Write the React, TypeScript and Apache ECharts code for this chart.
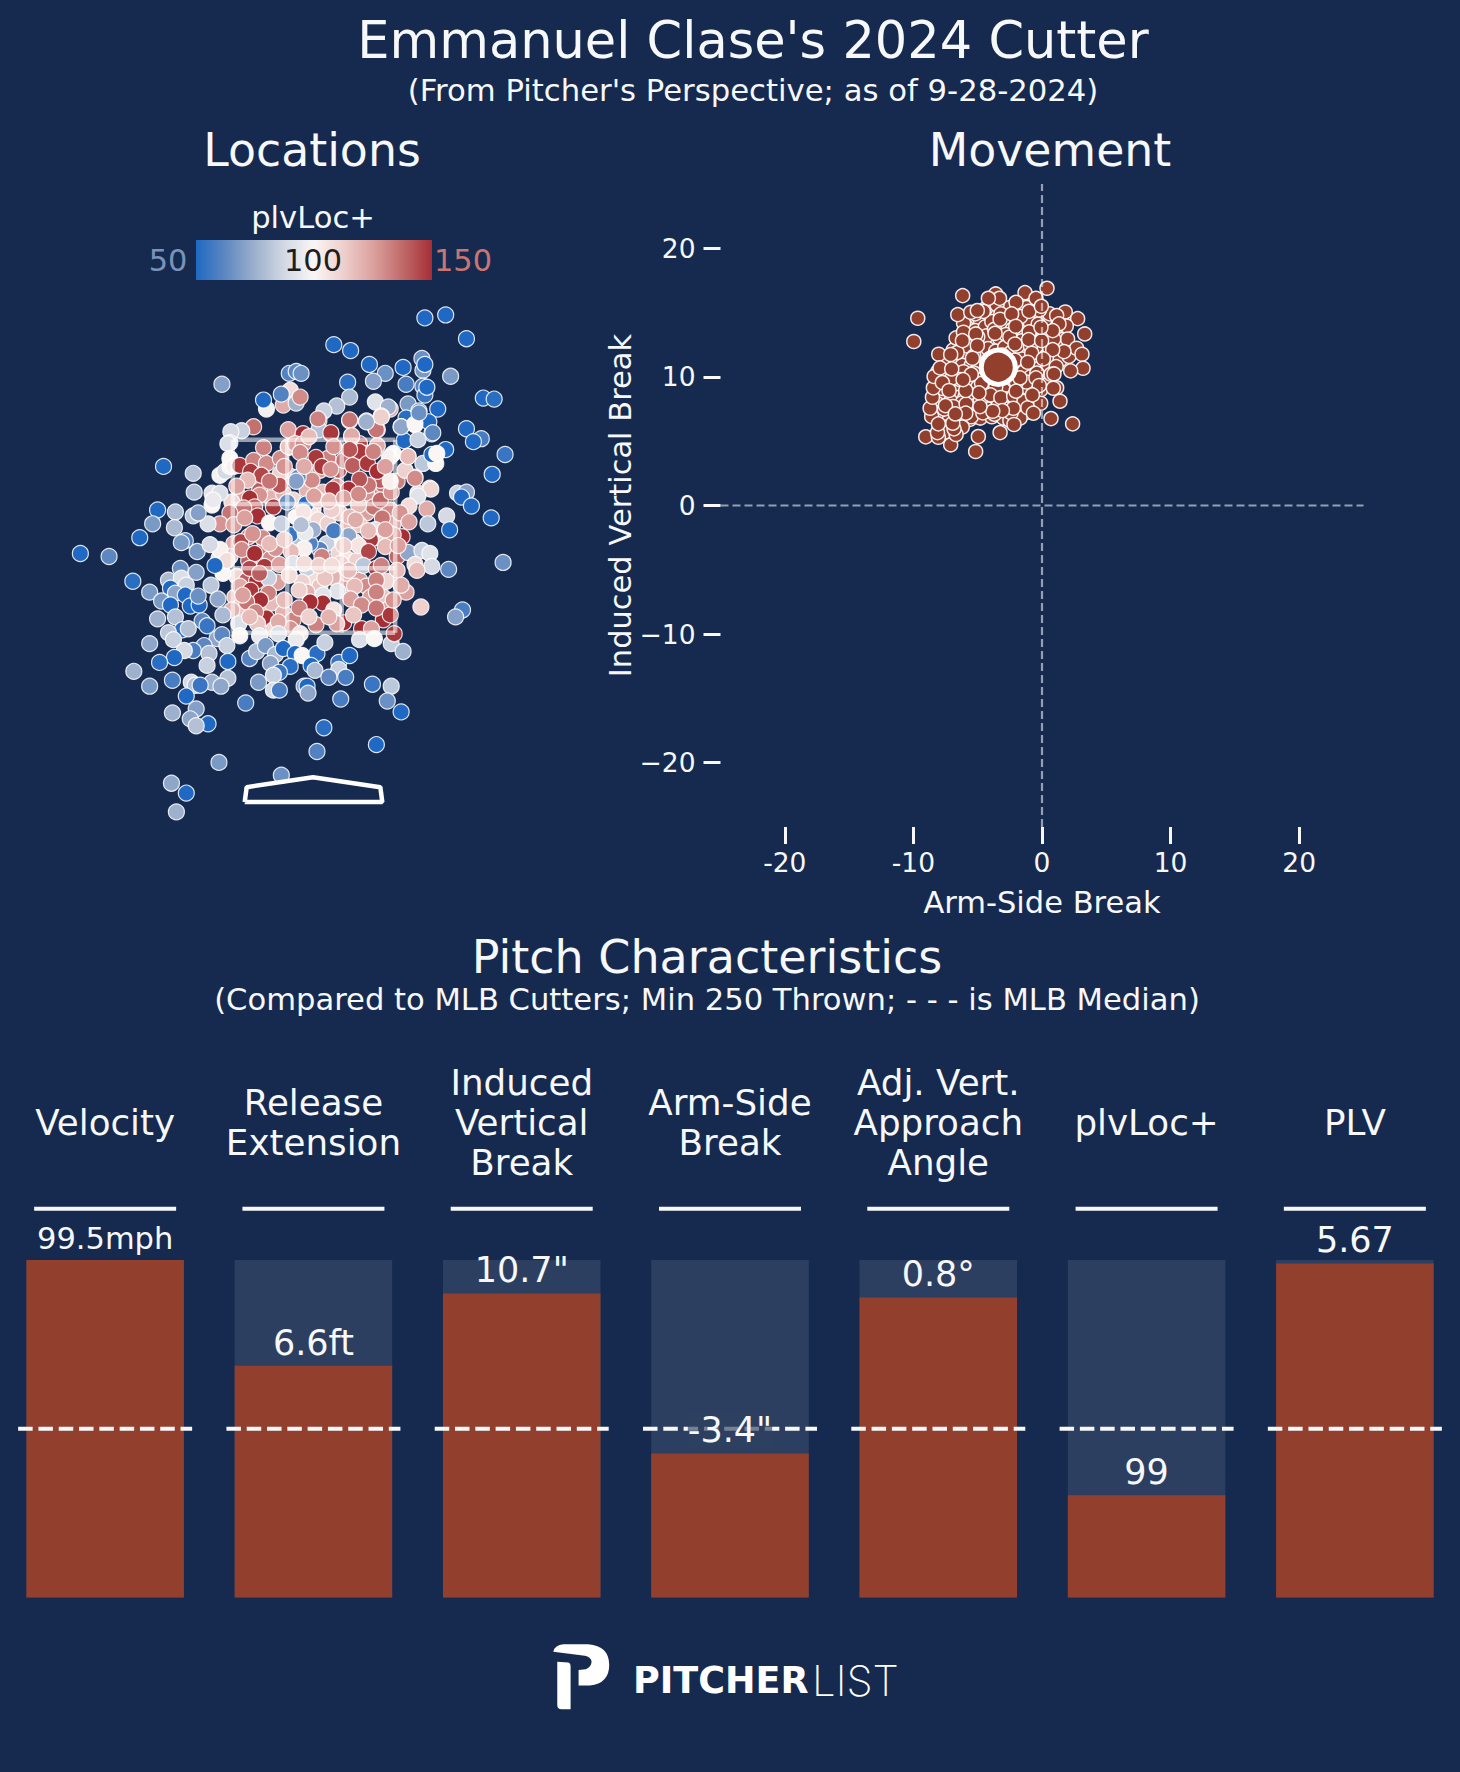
import React from 'react';
import * as echarts from 'echarts';

// plate x (ft), plate z (ft), plvLoc+
const locationPitches = [
  [-0.31,3.36,122],[-0.24,3.30,118],[0.13,3.13,112],[-0.07,3.16,120],[0.23,3.20,130],[0.63,3.16,130],[0.70,3.21,135],[0.53,3.13,128],[0.67,3.26,140],[0.84,3.25,132],
  [0.80,3.53,100],[0.55,3.21,135],[0.06,3.36,125],[0.25,3.36,140],[0.30,3.46,135],[0.46,3.63,145],[0.53,3.53,148],[-0.34,3.33,112],[-0.75,3.09,125],[-0.55,3.16,140],
  [-0.43,3.08,120],[-0.83,3.04,110],[-0.31,3.13,120],[-0.21,3.06,110],[-0.01,2.96,108],[-0.18,2.89,100],[-0.04,2.93,105],[0.04,2.86,110],[0.14,2.82,112],[0.26,2.93,115],
  [0.35,2.81,118],[0.53,2.93,125],[0.60,2.99,135],[0.77,2.96,130],[0.80,2.82,122],[0.67,2.67,110],[0.77,2.66,120],[0.41,2.64,105],[0.26,2.62,100],[0.13,2.62,85],
  [0.06,2.56,60],[-0.04,2.62,60],[-0.19,2.64,80],[-0.24,2.71,55],[0.25,2.52,110],[0.33,2.47,105],[0.43,2.45,112],[-0.81,2.62,122],[-0.85,2.49,115],[-0.66,2.45,140],
  [-0.53,2.54,135],[-0.44,2.47,130],[-0.78,2.29,110],[-0.68,2.25,140],[-0.58,2.24,150],[-0.80,2.08,118],[-0.75,1.98,115],[-0.83,1.95,120],[-0.51,1.95,120],[-0.43,2.02,118],
  [-0.48,1.87,150],[-0.31,1.92,120],[-0.21,1.85,132],[-0.24,1.76,128],[-0.41,1.75,110],[0.01,2.25,108],[0.06,2.19,115],[0.30,2.22,125],[0.33,2.32,118],[0.46,2.25,125],
  [0.53,2.19,130],[0.57,2.08,125],[0.70,2.08,115],[0.73,1.95,125],[0.70,1.85,150],
  [1.12,4.90,50],[1.33,4.93,50],[1.54,4.69,50],[0.20,4.63,50],[0.37,4.57,50],[0.56,4.43,50],[0.90,4.40,50],[1.09,4.49,65],[1.10,4.37,68],[1.12,4.43,50],
  [0.72,4.34,65],[1.38,4.31,68],[-0.25,4.34,60],[-0.18,4.36,62],[-0.13,4.34,65],[-0.93,4.23,70],[0.34,4.25,52],[0.60,4.26,70],[0.93,4.23,58],[1.10,4.21,60],
  [1.12,4.12,55],[1.14,4.20,50],[1.71,4.09,50],[1.82,4.08,52],[-0.24,4.17,108],[-0.31,4.02,122],[-0.18,4.04,75],[-0.33,4.13,60],[-0.48,3.98,98],[-0.51,4.07,50],
  [-0.14,4.10,130],[0.36,4.10,78],[0.62,4.05,92],[0.77,3.98,122],[0.75,4.00,75],[0.95,4.03,68],[1.25,3.98,50],[1.06,3.96,62],[0.23,4.01,80],[0.10,3.96,85],
  [0.68,3.91,115],[0.05,3.86,132],[0.36,3.86,132],[0.53,3.86,75],[0.93,3.89,52],[1.02,3.82,103],[0.88,3.80,82],[1.19,3.73,62],[1.16,3.85,50],[1.69,3.68,58],
  [1.54,3.78,50],[1.61,3.65,50],[1.93,3.52,55],[1.80,3.32,50],[-0.61,3.80,136],[-0.73,3.76,85],[-0.84,3.75,88],[-0.26,3.77,125],[-0.11,3.73,150],[0.17,3.73,148],
  [0.05,3.77,80],[0.62,3.79,118],[0.64,3.77,132],[0.38,3.70,125],[0.91,3.66,50],[1.05,3.67,85],[-0.85,3.64,90],[-0.51,3.59,132],[-0.26,3.59,120],
  [-1.52,3.40,50],[-1.22,3.33,80],[-1.21,3.14,78],[1.33,3.57,50],[1.10,3.43,82],[1.23,3.43,100],[1.19,3.52,50],[1.17,3.18,112],[1.02,3.29,125],[1.45,3.13,85],
  [1.54,3.14,70],[1.49,3.09,50],[1.05,3.13,92],[0.95,3.50,125],[0.92,3.36,112],[-0.95,3.31,98],[-0.90,3.35,88],[-1.03,3.13,92],[-0.95,3.13,90],[-0.85,3.40,100],
  [-0.87,3.63,90],[-0.85,3.48,100],[-0.81,3.40,102],
  [-0.75,3.41,148],[-0.61,3.46,132],[-0.48,3.43,130],[-0.64,3.35,148],[-0.53,3.31,145],[-0.67,3.26,118],[-0.34,3.48,130],[-0.26,3.60,115],[-0.19,3.63,125],[-0.11,3.63,130],
  [-0.14,3.54,130],[0.04,3.88,132],[0.36,3.87,135],[0.17,3.74,148],[0.38,3.71,122],[0.63,3.77,135],[0.68,3.90,112],[0.53,3.85,75],[0.88,3.80,72],[1.02,3.83,100],
  [1.20,3.74,62],[1.06,3.94,65],[1.24,3.53,100],[0.95,3.50,118],[0.76,3.49,102],[0.64,3.61,122],[0.46,3.55,148],[0.36,3.57,142],[0.14,3.48,132],[0.02,3.49,148],
  [0.08,3.40,148],[0.17,3.37,128],[0.39,3.41,140],[0.54,3.43,148],[0.64,3.35,150],[0.46,3.27,142],[0.35,3.17,150],[-0.02,3.26,130],[-0.16,3.29,62],[-0.18,3.25,70],
  [0.09,3.14,118],[0.19,3.17,148],[-0.35,3.21,142],[-0.55,3.11,128],[-0.78,3.20,125],[-0.65,3.08,150],[-0.60,2.99,140],[-0.41,2.99,148],[-0.71,2.98,135],[-0.85,2.93,135],
  [-0.95,2.82,128],[-0.81,2.81,125],[-0.57,2.90,150],[-0.27,3.04,65],[-0.08,3.02,50],[0.04,3.06,115],[-0.11,2.94,105],[-0.45,2.83,100],[-0.33,2.82,85],[0.18,2.96,112],
  [0.45,3.01,118],[0.67,3.06,138],[0.78,3.14,128],[0.77,3.25,102],[1.02,3.28,130],[1.18,3.17,110],[1.05,3.10,92],[0.96,3.00,108],[1.14,2.97,122],[0.87,2.93,128],
  [0.69,2.88,135],[0.46,2.81,115],[0.62,2.76,92],[0.36,2.89,118],[0.42,2.86,122],[0.96,2.84,125],[1.15,2.82,82],[0.89,2.69,150],[0.80,2.71,125],[0.57,2.66,148],
  [0.35,2.70,72],[0.20,2.75,58],[-0.01,2.76,75],[-0.09,2.73,95],[-0.13,2.81,80],[-0.10,2.57,102],[0.08,2.49,132],[-0.23,2.54,118],[-0.39,2.57,128],[-0.52,2.68,130],
  [-0.66,2.69,135],[-0.74,2.64,145],[-0.73,2.56,130],[-0.60,2.52,150],[-0.96,2.47,93],[-0.92,2.32,100],[-0.95,2.56,102],[-0.88,2.45,108],[-0.65,2.37,145],[-0.50,2.39,148],
  [-0.35,2.41,125],[-0.21,2.42,92],[-0.07,2.37,85],[0.45,2.60,105],[0.55,2.54,145],[0.72,2.59,118],[0.84,2.49,138],[0.95,2.53,72],[1.09,2.55,85],[1.17,2.52,92],
  [1.02,2.41,108],[1.19,2.39,88],[1.36,2.36,62],[1.04,2.35,118],[0.50,2.40,82],[0.63,2.37,148],[0.27,2.42,112],[0.68,2.40,132],[0.84,2.35,118],[0.73,2.24,110],
  [0.63,2.25,132],[0.41,2.19,118],[0.19,2.28,120],[0.11,2.27,115],[-0.12,2.23,112],[-0.37,2.23,125],[-0.46,2.27,85],[-0.55,2.32,140],[-0.75,2.19,122],[-0.64,2.15,148],
  [-0.46,2.12,132],[-0.07,2.13,120],[0.24,2.14,92],[0.09,2.10,92],[0.37,2.06,125],[0.63,2.13,132],[0.48,2.00,130],[0.09,2.02,150],[-0.04,2.03,150],[-0.15,1.97,132],
  [-0.54,2.05,150],[-0.68,2.03,135],[-0.59,1.93,132],[0.93,2.13,125],[1.08,1.98,112],[0.63,1.97,135],[0.77,1.90,148],[0.20,1.95,105],[0.02,1.80,132],[0.30,1.82,150],
  [-0.36,1.83,122],[-0.57,1.81,115],[-0.76,1.81,90],[0.48,1.76,150],[0.58,1.76,125],[0.23,1.81,125],[-0.14,1.71,105],[-0.36,1.71,90],[-0.55,1.69,95],[-0.75,1.69,100],
  [-0.18,1.65,95],[-1.07,2.82,90],[-1.03,3.01,100],[-1.02,3.06,95],[-1.00,2.40,50],
  [-1.58,2.96,50],[-1.40,2.94,78],[-1.63,2.82,68],[-1.22,2.90,82],[-1.17,2.93,70],[-1.41,2.78,78],[-1.76,2.68,50],[-1.30,2.65,60],[-1.34,2.63,68],[-2.36,2.52,50],
  [-2.07,2.49,62],[-1.18,2.54,68],[-1.05,2.61,88],[-1.35,2.37,65],[-1.19,2.33,70],[-1.83,2.24,52],[-1.47,2.25,78],[-1.34,2.27,90],[-1.29,2.20,85],[-1.45,2.17,50],
  [-1.66,2.13,68],[-1.40,2.12,72],[-1.30,2.10,50],[-1.54,2.04,68],[-1.45,2.00,50],[-1.25,1.99,50],[-1.16,2.00,50],[-1.17,2.09,65],[-1.04,2.20,82],[-0.97,2.06,72],
  [-0.92,1.90,78],[-1.58,1.86,75],[-1.40,1.88,80],[-1.13,1.84,62],[-1.33,1.75,52],[-1.27,1.76,80],[-1.47,1.72,82],[-1.08,1.79,55],[-0.98,1.66,72],[-0.93,1.70,62],
  [-0.88,1.59,85],[-1.66,1.61,72],[-1.42,1.65,85],[-1.11,1.59,62],[-1.22,1.54,58],[-1.31,1.54,88],[-1.41,1.47,50],[-1.06,1.51,80],[-1.56,1.42,52],[-1.08,1.39,85],
  [-0.87,1.43,50],[-1.82,1.33,75],[-1.43,1.24,58],[-1.66,1.18,68],[-0.87,1.26,80],[-1.03,1.22,75],[-0.94,1.18,72],[-1.24,1.22,88],[-1.20,1.19,80],[-1.15,1.19,55],
  [-1.29,1.08,50],[-0.56,1.22,68],[-0.69,1.01,58],[-1.43,0.91,75],[-1.19,0.95,70],[-1.25,0.85,72],[-1.07,0.80,50],[-1.19,0.78,80],[-0.65,1.46,60],[-0.58,1.53,78],
  [-0.49,1.59,68],[-0.39,1.50,78],[-0.31,1.56,50],[-0.19,1.51,50],[-0.12,1.49,100],[0.03,1.51,52],[-0.24,1.38,52],[-0.44,1.41,72],[-0.35,1.32,55],[-0.41,1.29,85],
  [-0.41,1.14,88],[-0.35,1.14,58],[-0.03,1.39,50],[0.01,1.34,78],[0.25,1.42,55],[0.36,1.49,50],[0.25,1.35,85],[0.15,1.27,62],[0.32,1.27,58],[-0.10,1.18,70],
  [-0.07,1.18,50],[-0.06,1.11,72],[0.27,1.05,58],[0.59,1.20,55],[0.78,1.18,82],[0.74,1.03,65],[0.88,0.92,50],[0.10,0.76,52],[0.63,0.59,50],[0.03,0.52,60],
  [-0.96,0.41,68],[-0.33,0.28,65],[-1.44,0.20,72],[-1.29,0.10,50],[-1.39,-0.09,75],[0.11,1.62,85],[0.78,1.61,85],[0.90,1.53,75],[0.46,1.65,90],[0.61,1.66,100],
  [0.81,1.71,148],[1.34,2.90,88],[1.37,2.76,50],[1.79,2.88,50],[1.59,3.00,50],[1.91,2.43,65],[1.50,1.95,58],[1.43,1.88,70],
  [-0.70,2.88,125],[-0.62,2.72,128],[-0.45,2.62,118],[-0.30,2.66,112],[-0.25,2.30,108],[-0.15,2.15,112],[-0.30,2.05,118],[-0.10,2.42,108],[0.05,2.40,112],[0.18,2.40,108],
  [0.30,2.60,112],[0.35,2.35,118],[0.55,2.75,118],[0.72,2.76,125],[0.85,2.60,125],[0.88,2.20,122],[0.80,2.05,128],[0.40,1.90,115],[0.15,1.88,120],[-0.05,1.88,112],
  [-0.65,1.88,118],[-0.72,2.10,125],[-0.45,3.25,135],[-0.30,3.40,128],[-0.10,3.40,122],[0.00,3.10,125],[0.15,3.05,118],[0.30,3.08,125],[0.45,3.12,130],[0.72,3.40,125],
  [0.60,3.55,132],[0.20,3.60,128],[-0.05,3.70,118],
];

// arm-side break (in), induced vertical break (in)
const movementPitches = [
  [-5.6,14.3],[-4.8,14.4],[-4.1,14.9],[-3.0,15.2],[-2.5,15.4],[-1.9,15.1],[-1.5,15.6],[-0.6,14.9],[0.2,14.4],[0.6,14.9],[-5.9,13.9],[-5.2,13.6],[-4.4,13.9],[-3.9,14.3],[-2.9,14.2],
  [-2.3,13.7],[-1.6,13.8],[-0.9,14.2],[-0.3,14.1],[0.4,13.5],[1.5,13.4],[-6.4,12.9],[-5.5,12.9],[-4.7,12.8],[-4.3,13.2],[-3.3,13.0],[-2.8,13.3],[-1.6,12.8],[-0.6,13.2],[0.2,12.6],
  [1.2,12.5],[1.6,12.9],[-6.9,12.1],[-6.0,11.9],[-5.8,12.4],[-4.8,11.8],[-4.2,12.2],[-3.6,12.0],[-2.9,12.3],[-2.4,11.9],[-1.6,12.2],[-1.2,11.8],[-0.4,12.3],[0.4,11.7],[0.9,11.4],
  [1.4,11.3],[-7.4,11.1],[-6.7,11.4],[-6.2,10.9],[-5.5,10.9],[-4.9,11.0],[-4.3,10.7],[-2.6,11.2],[-1.9,10.9],[-1.6,11.4],[-0.7,11.0],[-0.2,10.7],[0.4,10.6],[-8.1,10.4],[-7.5,10.2],
  [-6.7,10.1],[-6.1,10.4],[-5.3,10.3],[-4.5,9.9],[-3.9,9.6],[-3.2,9.5],[-2.5,9.7],[-1.4,10.4],[-0.9,10.0],[0.3,9.8],[-8.0,9.3],[-7.3,9.5],[-6.6,9.3],[-5.6,9.5],[-5.0,9.2],
  [-4.3,9.0],[-3.6,8.8],[-3.0,9.0],[-1.6,9.2],[-1.2,8.8],[-0.4,8.8],[0.4,9.4],[-7.9,8.6],[-7.6,8.3],[-6.6,8.4],[-6.0,8.4],[-5.3,8.2],[-4.4,8.3],[-3.6,8.1],[-2.8,8.3],
  [-2.4,8.0],[-1.6,8.2],[-1.0,7.9],[-8.1,7.9],[-7.2,7.4],[-6.3,7.6],[-5.4,7.7],[-5.0,7.1],[-4.2,7.5],[-3.4,7.8],[-2.7,7.5],[-1.8,7.3],[-1.3,7.2],[-8.0,7.1],[-7.2,6.7],
  [-6.2,6.6],[-5.6,6.7],[-4.8,6.8],[-3.9,6.9],[-3.0,6.8],[-2.5,6.6],[-1.7,6.8],[-7.6,6.1],[-6.5,6.3],[-5.5,6.9],
  [-5.2,14.9],[-4.4,15.3],[-3.5,15.6],[-3.2,14.9],[-2.0,14.5],[-1.2,15.4],[-0.2,15.2],[0.1,13.1],[-6.1,14.2],[-5.0,13.1],[-3.7,13.7],[-2.5,13.1],[-1.0,13.5],[-6.6,11.9],[-5.3,11.6],
  [-4.1,11.4],[-3.1,11.7],[-2.1,11.3],[-1.9,12.4],[-0.9,12.4],[0.6,12.2],[1.8,12.4],[2.1,11.6],[1.1,10.8],[0.7,10.2],[-0.4,10.3],[-1.2,9.6],[-2.0,9.6],[-2.8,10.1],[-3.6,9.2],
  [-4.7,9.5],[-5.5,10.2],[-6.4,9.8],[-7.0,9.9],[-7.7,9.1],[-7.1,8.1],[-6.2,8.0],[-5.7,8.7],[-4.8,8.2],[-4.0,8.6],[-3.2,8.4],[-2.2,8.5],[-1.4,8.1],[-0.6,8.3],[-0.1,9.0],
  [-7.6,7.5],[-6.9,7.7],[-5.9,7.9],[-4.6,7.2],[-3.7,7.1],[-2.4,7.2],[-1.1,7.6],[-6.9,6.0],[-7.4,5.7],[-6.2,6.1],
  [0.39,16.89],[-1.32,16.55],[-0.47,16.11],[-3.60,16.45],[-3.30,16.11],[-4.17,16.11],[-6.17,16.32],[-2.02,15.80],[-9.66,14.56],[-6.55,14.84],[-9.97,12.75],[-8.03,11.76],[-5.54,15.03],[-4.56,15.10],[-5.03,15.16],
  [-3.26,14.48],[-1.66,14.69],[-1.01,15.10],[-0.05,15.49],[-2.36,14.90],[1.81,15.05],[2.77,14.53],[1.14,14.77],[1.89,13.96],[1.32,14.12],[3.32,13.34],[1.99,12.95],[0.91,12.95],[2.69,12.23],[3.11,11.76],
  [1.71,11.97],[0.83,12.12],[3.19,10.67],[2.23,10.47],[0.93,10.23],[1.14,9.15],[0.88,9.12],[1.40,8.11],[0.70,6.76],[2.38,6.35],[-0.10,7.95],[-0.67,7.18],[-2.18,6.30],[-3.26,5.67],[-4.95,5.36],
  [-5.16,4.20],[-7.10,4.72],[-9.04,5.34],[-8.06,5.31],[-8.13,5.67],[-6.68,5.52],[-6.84,5.96],[-6.94,6.40],[-8.58,6.92],[-8.70,7.56],[-8.06,6.35],[-7.51,7.77],[-8.52,8.42],[-8.45,9.15],[-8.39,10.03],
  [-7.93,10.70],[-7.75,9.56],[-7.10,11.74],[-6.68,13.03],[-6.11,13.47],[-5.15,13.34],[-3.65,13.39],[-2.04,13.94],[-1.04,12.90],[-0.03,12.82],[0.83,13.60],[-0.08,13.86],[-5.03,12.44],[-5.41,11.45],[-6.19,12.82],
  [-2.10,12.56],[-0.80,11.84],[-1.11,11.14],[0.10,11.40],[-0.47,9.92],[-1.71,9.92],[-0.21,9.33],[-0.75,8.60],[-2.02,8.89],[-2.23,7.56],[-3.08,7.38],[-3.83,7.33],[-4.82,7.69],[-4.90,8.76],[-5.93,7.18],
  [-6.74,7.12],[-5.93,8.94],[-6.14,9.79],[-7.02,10.62],[-7.23,8.94],
];
const movementMean = [[-3.4, 10.75]];

// strike zone lines, plate outline (ft)
const zoneX = [-0.82, -0.27, 0.28, 0.82];
const zoneZ = [1.72, 2.37, 3.02, 3.67];
const plateOutline = [[-0.70, 0.01], [0.69, 0.01], [0.67, 0.16], [-0.01, 0.26], [-0.68, 0.16], [-0.70, 0.01]];

const breakTicks = [-20, -10, 0, 10, 20];

const categories = ['Velocity', 'Release\nExtension', 'Induced\nVertical\nBreak', 'Arm-Side\nBreak', 'Adj. Vert.\nApproach\nAngle', 'plvLoc+', 'PLV'];
const percentiles = [100, 68.7, 90.1, 42.7, 88.9, 30.3, 99];
const valueLabels = ['99.5mph', '6.6ft', '10.7"', '-3.4"', '0.8°', '99', '5.67'];
const medianLevel = 50;
const headerLevel = 115.2;

const NAVY = '#162a50';
const RUST = '#933f2d';
const WHITE = '#f7f8fa';
const colorRamp = ['#1f69c4', '#5f88c0', '#9db0cd', '#d3d9e4', '#faf6f4', '#eecfcc', '#dca19e', '#c06a69', '#a52e35'];

echarts.graphic.registerShape(
  'logo',
  echarts.graphic.extendPath(
    'M160 95 Q165 75 190 73 L265 73 Q328 78 328 135 Q328 190 270 197 L236 197 L236 150 L258 148 Q275 140 275 124 Q272 110 255 107 Z M172 125 L205 128 Q212 130 212 140 L212 268 L185 268 Q172 268 172 255 Z',
    {},
  ),
);

const FONT = 'DejaVu Sans';

const centeredText = (text: string, x: number, y: number, fontSize: number, fill = WHITE) => ({
  type: 'text',
  x,
  y,
  style: { text, fill, font: `${fontSize}px "${FONT}"`, textAlign: 'center', textVerticalAlign: 'middle' },
});

const App = () => {
  const chartRef = React.useRef<HTMLDivElement>(null);

  React.useEffect(() => {
    document.body.style.margin = '0';
    document.body.style.background = NAVY;
    const myChart = echarts.init(chartRef.current, null, { renderer: 'svg' });

    const zoneSegments = [
      ...zoneX.map((x) => [[x, zoneZ[0]], [x, zoneZ[3]]]),
      ...zoneZ.map((z) => [[zoneX[0], z], [zoneX[3], z]]),
    ];

    const lineItem = (halfWidth: number, lineWidth: number, dash?: number[]) => (_: any, api: any) => {
      const p = api.coord([api.value(0), api.value(1)]);
      return {
        type: 'line',
        shape: { x1: p[0] - halfWidth, y1: p[1], x2: p[0] + halfWidth, y2: p[1] },
        style: { stroke: WHITE, lineWidth, lineDash: dash },
      };
    };

    const option: any = {
      animation: false,
      backgroundColor: NAVY,
      textStyle: { fontFamily: FONT },
      grid: [
        { left: 17, top: 209, width: 594, height: 693 },
        { left: 720.5, top: 184, width: 643, height: 643 },
        { left: 1, top: 1260, width: 1458, height: 337.5 },
      ],
      xAxis: [
        { gridIndex: 0, type: 'value', min: -3, max: 3, show: false },
        {
          gridIndex: 1,
          type: 'value',
          min: -25,
          max: 25,
          splitLine: { show: false },
          axisLine: { show: false, onZero: false },
          axisTick: { show: true, length: 17, customValues: breakTicks, lineStyle: { color: WHITE, width: 3 } },
          axisLabel: { customValues: breakTicks, color: WHITE, fontSize: 26.5, margin: 22 },
          name: 'Arm-Side Break',
          nameLocation: 'middle',
          nameGap: 60,
          nameTextStyle: { color: WHITE, fontSize: 30.5 },
        },
        {
          gridIndex: 2,
          type: 'category',
          position: 'top',
          data: categories,
          axisLine: { show: false },
          axisTick: { show: false },
          axisLabel: { interval: 0, color: WHITE, fontSize: 35.7, lineHeight: 40, margin: 138, verticalAlign: 'middle' },
        },
      ],
      yAxis: [
        { gridIndex: 0, type: 'value', min: -1, max: 6, show: false },
        {
          gridIndex: 1,
          type: 'value',
          min: -25,
          max: 25,
          splitLine: { show: false },
          axisLine: { show: false, onZero: false },
          axisTick: { show: true, length: 17, customValues: breakTicks, lineStyle: { color: WHITE, width: 3 } },
          axisLabel: {
            customValues: breakTicks,
            color: WHITE,
            fontSize: 26.5,
            margin: 25,
            formatter: (v: number) => (v < 0 ? `\u2212${-v}` : `${v}`),
          },
          name: 'Induced Vertical Break',
          nameLocation: 'middle',
          nameRotate: 90,
          nameGap: 79,
          nameTextStyle: { color: WHITE, fontSize: 30.5 },
        },
        { gridIndex: 2, type: 'value', min: 0, max: 100, show: false },
      ],
      visualMap: {
        show: false,
        type: 'continuous',
        seriesIndex: 0,
        dimension: 2,
        min: 50,
        max: 150,
        inRange: { color: colorRamp },
      },
      series: [
        {
          type: 'scatter',
          xAxisIndex: 0,
          yAxisIndex: 0,
          data: locationPitches,
          symbolSize: 16,
          itemStyle: { borderColor: 'rgba(255,255,255,0.85)', borderWidth: 1.2, opacity: 1 },
          z: 2,
        },
        ...zoneSegments.map((segment) => ({
          type: 'line',
          xAxisIndex: 0,
          yAxisIndex: 0,
          data: segment,
          symbol: 'none',
          lineStyle: { color: 'rgba(255,255,255,0.55)', width: 4.5 },
          z: 3,
        })),
        {
          type: 'line',
          xAxisIndex: 0,
          yAxisIndex: 0,
          data: plateOutline,
          symbol: 'none',
          lineStyle: { color: '#ffffff', width: 4.5 },
          z: 3,
        },
        {
          type: 'scatter',
          xAxisIndex: 1,
          yAxisIndex: 1,
          data: movementPitches,
          symbolSize: 14,
          itemStyle: { color: RUST, borderColor: 'rgba(255,255,255,0.9)', borderWidth: 1.5, opacity: 1 },
          z: 2,
        },
        ...[
          [[-25, 0], [25, 0]],
          [[0, -25], [0, 25]],
        ].map((guide) => ({
          type: 'line',
          xAxisIndex: 1,
          yAxisIndex: 1,
          data: guide,
          symbol: 'none',
          lineStyle: { color: 'rgba(255,255,255,0.55)', width: 2.2, type: [8, 4] },
          z: 3,
        })),
        {
          type: 'scatter',
          xAxisIndex: 1,
          yAxisIndex: 1,
          data: movementMean,
          symbolSize: 34,
          itemStyle: { color: RUST, borderColor: '#ffffff', borderWidth: 5, opacity: 1 },
          z: 4,
        },
        {
          type: 'bar',
          xAxisIndex: 2,
          yAxisIndex: 2,
          data: percentiles,
          barWidth: 157.5,
          barGap: '-100%',
          showBackground: true,
          backgroundStyle: { color: 'rgba(255,255,255,0.1)' },
          itemStyle: { color: RUST },
          z: 2,
        },
        {
          type: 'custom',
          xAxisIndex: 2,
          yAxisIndex: 2,
          data: categories.map((_, i) => [i, medianLevel]),
          encode: { x: 0, y: 1 },
          renderItem: lineItem(87, 4, [14.5, 5.8]),
          z: 3,
        },
        {
          type: 'custom',
          xAxisIndex: 2,
          yAxisIndex: 2,
          data: categories.map((_, i) => [i, headerLevel]),
          encode: { x: 0, y: 1 },
          renderItem: lineItem(71, 4),
          z: 3,
        },
        {
          type: 'bar',
          xAxisIndex: 2,
          yAxisIndex: 2,
          barWidth: 157.5,
          barGap: '-100%',
          itemStyle: { color: 'transparent' },
          data: percentiles.map((value, i) => ({
            value,
            label: {
              show: true,
              position: 'top',
              formatter: valueLabels[i],
              color: WHITE,
              fontSize: i === 0 ? 30.5 : 35,
              distance: i === 1 ? 5 : 6,
              ...(i === 3 ? { backgroundColor: 'rgba(46,64,96,0.65)' } : {}),
            },
          })),
          z: 4,
        },
      ],
      graphic: [
        centeredText("Emmanuel Clase's 2024 Cutter", 753, 40, 51),
        centeredText("(From Pitcher's Perspective; as of 9-28-2024)", 753, 90, 30.7),
        centeredText('Locations', 312, 150, 45.8),
        centeredText('Movement', 1050, 150, 45.8),
        centeredText('Pitch Characteristics', 707, 957, 46),
        centeredText('(Compared to MLB Cutters; Min 250 Thrown; - - - is MLB Median)', 707, 999, 30.6),
        centeredText('plvLoc+', 313, 217, 30.6),
        {
          type: 'rect',
          shape: { x: 196, y: 240, width: 236, height: 40 },
          style: {
            fill: new echarts.graphic.LinearGradient(
              0,
              0,
              1,
              0,
              colorRamp.map((color, i) => ({ offset: i / (colorRamp.length - 1), color })),
            ),
          },
        },
        centeredText('50', 168, 260, 30.4, '#7a93b8'),
        centeredText('100', 313, 260, 30.4, '#1e1e1e'),
        centeredText('150', 463, 260, 30.4, '#c97672'),
        { type: 'logo', x: 500, y: 1620, scaleX: 1 / 3, scaleY: 1 / 3, style: { fill: '#ffffff' } },
        {
          type: 'text',
          x: 633,
          y: 1680,
          style: { text: 'PITCHER', fill: '#ffffff', font: 'bold 36.5px "DejaVu Sans"', textVerticalAlign: 'middle' },
        },
        {
          type: 'text',
          x: 812,
          y: 1680,
          style: { text: 'LIST', fill: '#ffffff', font: '200 42px Inter', textVerticalAlign: 'middle' },
        },
      ],
    };

    myChart.setOption(option);

    return () => {
      myChart.dispose();
    };
  }, []);

  return <div ref={chartRef} style={{ position: 'absolute', left: 0, top: 0, width: 1460, height: 1772 }} />;
};

export default App;
